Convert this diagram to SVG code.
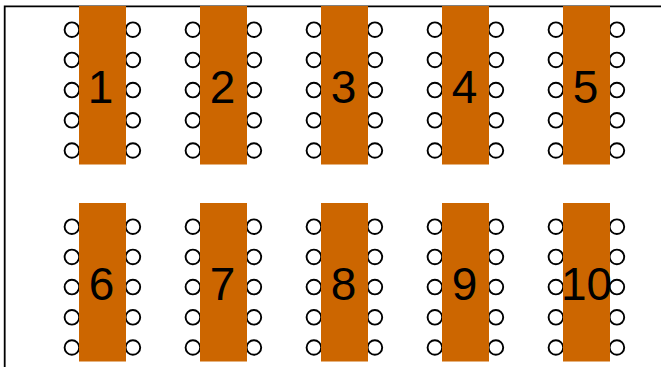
<svg xmlns="http://www.w3.org/2000/svg" width="661" height="367" viewBox="0 0 661 367">
<style>
.frame{fill:none;stroke:#000;stroke-width:1.8}
.pin{fill:#fff;stroke:#000;stroke-width:1.9}
.body{fill:#cc6600}
.lbl{font-family:"Liberation Sans",Arial,sans-serif;font-size:46px;fill:#000;text-anchor:middle}
</style>
<defs>
<g id="chip">
<circle class="pin" cx="-30.6" cy="23.7" r="7.3"/><circle class="pin" cx="-30.6" cy="53.9" r="7.3"/><circle class="pin" cx="-30.6" cy="84.1" r="7.3"/><circle class="pin" cx="-30.6" cy="114.3" r="7.3"/><circle class="pin" cx="-30.6" cy="144.5" r="7.3"/>
<circle class="pin" cx="30.4" cy="23.7" r="7.3"/><circle class="pin" cx="30.4" cy="53.9" r="7.3"/><circle class="pin" cx="30.4" cy="84.1" r="7.3"/><circle class="pin" cx="30.4" cy="114.3" r="7.3"/><circle class="pin" cx="30.4" cy="144.5" r="7.3"/>
<rect class="body" x="-23.5" y="0" width="47" height="158.5"/>
</g>
</defs>
<path id="frame" class="frame" d="M4.7 367V6.3H661"/>
<g id="connectors"/>
<g id="node1" transform="translate(102.5 6)"><use href="#chip"/><text class="lbl" y="97" x="-2">1</text></g>
<g id="node2" transform="translate(223.5 6)"><use href="#chip"/><text class="lbl" y="97" x="-1">2</text></g>
<g id="node3" transform="translate(344.5 6)"><use href="#chip"/><text class="lbl" y="97" x="-1">3</text></g>
<g id="node4" transform="translate(465.5 6)"><use href="#chip"/><text class="lbl" y="97" x="-1">4</text></g>
<g id="node5" transform="translate(586.5 6)"><use href="#chip"/><text class="lbl" y="97" x="-1">5</text></g>
<g id="node6" transform="translate(102.5 203)"><use href="#chip"/><text class="lbl" y="97" x="-1">6</text></g>
<g id="node7" transform="translate(223.5 203)"><use href="#chip"/><text class="lbl" y="97" x="-1">7</text></g>
<g id="node8" transform="translate(344.5 203)"><use href="#chip"/><text class="lbl" y="97" x="-1">8</text></g>
<g id="node9" transform="translate(465.5 203)"><use href="#chip"/><text class="lbl" y="97" x="-1">9</text></g>
<g id="node10" transform="translate(586.5 203)"><use href="#chip"/><text class="lbl" y="97" x="0">10</text></g>
</svg>
